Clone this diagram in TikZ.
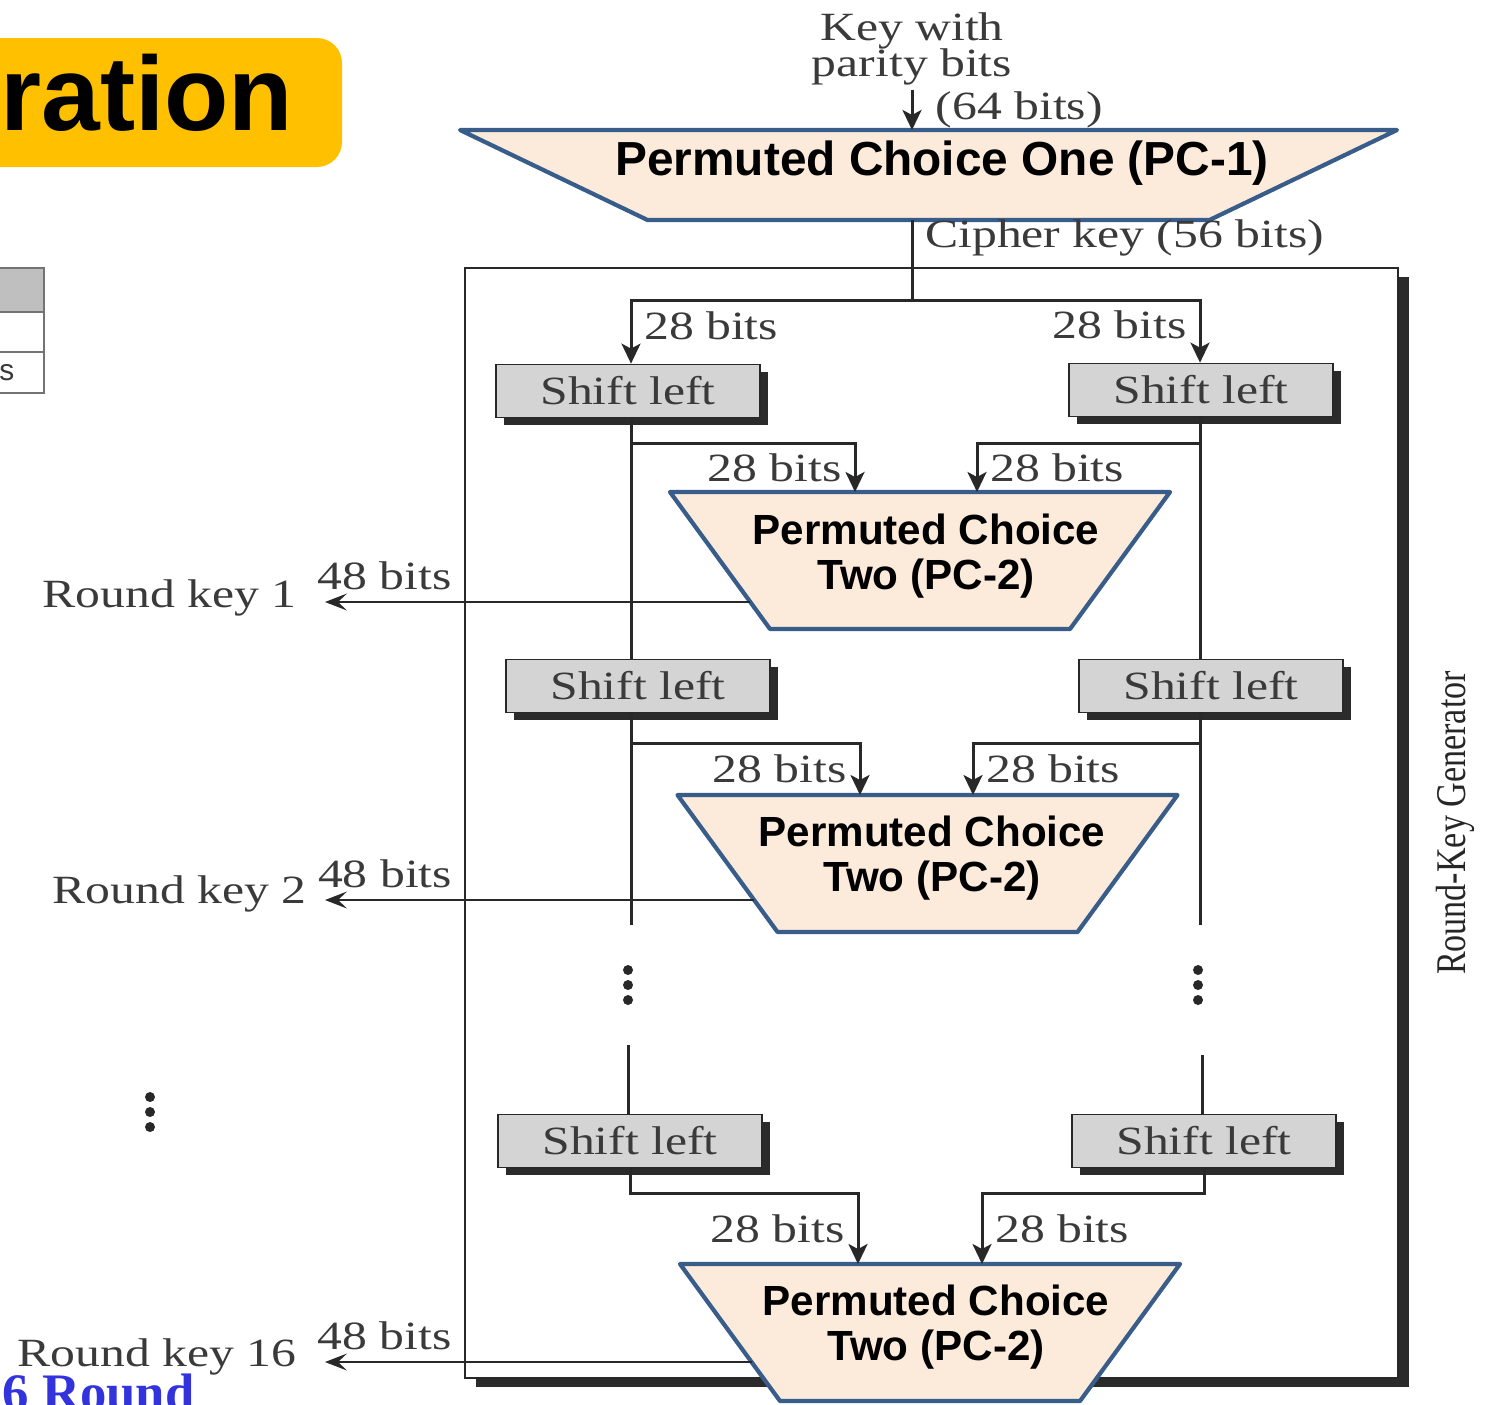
\documentclass[tikz,border=0pt]{standalone}
\usepackage{fontspec}
\usepackage{graphicx}
\usetikzlibrary{arrows.meta,positioning,shadows}

\newfontfamily\figserif[FakeStretch=1.24]{Liberation Serif}
\newfontfamily\plainserif{Liberation Serif}
\newfontfamily\figsans{Liberation Sans}

\definecolor{pcfill}{RGB}{252,234,218}
\definecolor{pcline}{RGB}{56,93,138}
\definecolor{shiftgray}{RGB}{212,212,212}
\definecolor{inkgray}{RGB}{58,58,58}
\definecolor{inkdark}{RGB}{40,40,40}
\definecolor{shadowgray}{RGB}{43,43,43}
\definecolor{titleyellow}{RGB}{255,192,0}
\definecolor{roundblue}{RGB}{51,51,221}
\definecolor{headgray}{RGB}{191,191,191}

\tikzset{
  lbl/.style={font=\figserif\fontsize{11.4}{12}\selectfont, text=inkgray},
  shiftbox/.style={lbl, draw=inkdark, fill=shiftgray, line width=0.5pt,
    minimum width=26.4mm, minimum height=5.3mm, inner sep=0pt,
    drop shadow={shadow xshift=0.8mm, shadow yshift=-0.7mm, fill=shadowgray, opacity=1}},
  genbox/.style={draw=inkdark, line width=0.45pt, fill=white,
    minimum width=93.3mm, minimum height=111mm,
    drop shadow={shadow xshift=1.1mm, shadow yshift=-0.9mm, fill=shadowgray, opacity=1}},
  pcbox/.style={draw=pcline, fill=pcfill, line width=1.2pt, line join=round},
  pctext/.style={font=\figsans\bfseries\fontsize{12}{12.6}\selectfont, align=center, inner sep=0pt},
  link/.style={draw=inkdark, line width=0.85pt},
  arr/.style={link, -{Stealth[length=2mm, width=1.9mm, inset=0.5mm]}},
  keyarr/.style={draw=inkdark, line width=0.45pt, -{Stealth[length=2.2mm, width=1.7mm, inset=0.9mm]}},
  tableline/.style={draw=black!55, line width=0.4pt}
}

% trapezoid: centre x, top y, half top width, half bottom width, height
\newcommand{\pcshape}[5]{%
  \draw[pcbox] (#1-#3,#2) -- (#1+#3,#2) -- (#1+#4,#2+#5) -- (#1-#4,#2+#5) -- cycle;}

\begin{document}
\begin{tikzpicture}[x=0.1mm, y=-0.1mm]
    \useasboundingbox (0,0) rectangle (1486,1404);

    % Title tab and table fragment
    \fill[titleyellow, rounded corners=2.5mm] (-60,38) rectangle (342,167);
    \node[anchor=base east, inner sep=0pt, font=\figsans\bfseries\fontsize{30}{32}\selectfont] (ttl) at (294,130) {ration};
    \draw[tableline, fill=headgray] (-10,268) rectangle (44,312);
    \draw[tableline] (-10,312) rectangle (44,352) (-10,352) rectangle (44,393);
    \node[anchor=base east, inner sep=0pt, text=inkgray, font=\figsans\fontsize{8.5}{9}\selectfont] (tblcell) at (15,380) {s};

    % Round-key generator frame
    \node[genbox] (rkg) at (931.5,823) {};
    \node[rotate=90, inner sep=0pt, text=black!85, font=\plainserif\fontsize{9.7}{10}\selectfont] (rkgname) at (1455,823) {\scalebox{1}[1.24]{Round-Key Generator}};

    % PC-1
    \node[lbl, align=center, inner sep=1pt, font=\figserif\fontsize{11.4}{10.4}\selectfont] (keyin) at (912,49) {Key with\\parity bits};
    \pcshape{928.5}{130}{468.5}{281}{90}
    \coordinate (pconetop) at (912,130);
    \coordinate (pconebot) at (912,220);
    \node[pctext, font=\figsans\bfseries\fontsize{13.6}{15}\selectfont] (pconetxt) at (942,163) {Permuted Choice One (PC-1)};
    \draw[arr] (keyin.south) -- (pconetop) node[midway, right=3pt, lbl] {(64 bits)};

    % Shift boxes
    \node[shiftbox] (shA1) at (628,391) {Shift left};
    \node[shiftbox] (shB1) at (1201,390) {Shift left};
    \node[shiftbox] (shA2) at (638,686) {Shift left};
    \node[shiftbox] (shB2) at (1211,686) {Shift left};
    \node[shiftbox] (shA3) at (630,1141) {Shift left};
    \node[shiftbox] (shB3) at (1204,1141) {Shift left};

    % PC-2 boxes
    \pcshape{920}{492}{250}{150}{137}
    \coordinate (pctwoa) at (920,492);
    \node[pctext] (pctwoatxt) at (926,556) {Permuted Choice\\Two (PC-2)};
    \pcshape{927.5}{795}{250}{150}{137}
    \coordinate (pctwob) at (927.5,795);
    \node[pctext] (pctwobtxt) at (932,858) {Permuted Choice\\Two (PC-2)};
    \pcshape{930}{1264}{250}{150}{137}
    \coordinate (pctwoc) at (930,1264);
    \node[pctext] (pctwoctxt) at (936,1327) {Permuted Choice\\Two (PC-2)};

    % Split of the cipher key
    \coordinate (split) at (912,300);
    \coordinate (cL) at (631,300);
    \coordinate (cR) at (1200,300);
    \draw[link] (pconebot) -- (split) node[pos=.22, right, lbl] {Cipher key (56 bits)};
    \draw[arr] (split) -- (cL) -- (cL |- shA1.north) node[pos=.4, right, lbl] {28 bits};
    \draw[arr] (split) -- (cR) -- (cR |- shB1.north) node[pos=.4, left, lbl] {28 bits};

    % Round 1
    \coordinate (tapLa) at (631,443);
    \coordinate (tapRa) at (1200,443);
    \draw[link] (cL |- shA1.south) -- (cL |- shA2.north);
    \draw[link] (cR |- shB1.south) -- (cR |- shB2.north);
    \draw[arr] (tapLa) -| ([xshift=-6.5mm]pctwoa) node[pos=.75, left, lbl] {28 bits};
    \draw[arr] (tapRa) -| ([xshift=5.7mm]pctwoa) node[pos=.75, right, lbl] {28 bits};

    % Round 2
    \coordinate (tapLb) at (631,743);
    \coordinate (tapRb) at (1200,743);
    \coordinate (endLb) at (631,925);
    \coordinate (endRb) at (1200,925);
    \draw[link] (cL |- shA2.south) -- (endLb);
    \draw[link] (cR |- shB2.south) -- (endRb);
    \draw[arr] (tapLb) -| ([xshift=-6.75mm]pctwob) node[pos=.75, left, lbl] {28 bits};
    \draw[arr] (tapRb) -| ([xshift=4.55mm]pctwob) node[pos=.75, right, lbl] {28 bits};

    % Dots
    \foreach \y in {970,985,1000} {
        \fill[inkdark] (628,\y) circle (0.5mm);
        \fill[inkdark] (1198,\y) circle (0.5mm);
    }
    \foreach \y in {1097,1112,1127}
        \fill[inkdark] (150,\y) circle (0.5mm);

    % Round 16
    \coordinate (resL) at (628,1045);
    \coordinate (resR) at (1202,1055);
    \draw[link] (resL) -- (resL |- shA3.north);
    \draw[link] (resR) -- (resR |- shB3.north);
    \draw[arr] (shA3.south) -- ++(0,25) -| ([xshift=-7.2mm]pctwoc) node[pos=.75, left, lbl] {28 bits};
    \draw[arr] (shB3.south) -- ++(0,25) -| ([xshift=5.2mm]pctwoc) node[pos=.75, right, lbl] {28 bits};

    % Round keys
    \coordinate (outa) at (750,602);
    \coordinate (outb) at (754,900);
    \coordinate (outc) at (752,1362);
    \coordinate (tips) at (325,0);
    \draw[keyarr] (outa) -- (outa -| tips) node[pos=.86, above, lbl] {48 bits};
    \draw[keyarr] (outb) -- (outb -| tips) node[pos=.86, above, lbl] {48 bits};
    \draw[keyarr] (outc) -- (outc -| tips) node[pos=.86, above, lbl] {48 bits};
    \node[lbl, anchor=east, inner sep=0pt] (rkone) at (297,598) {Round key 1};
    \node[lbl, anchor=east, inner sep=0pt] (rktwo) at (307,894) {Round key 2};
    \node[lbl, anchor=east, inner sep=0pt] (rksixteen) at (297,1357) {Round key 16};

    \node[anchor=base west, inner sep=0pt, text=roundblue, font=\plainserif\bfseries\fontsize{15}{16}\selectfont] (roundcap) at (2,1410) {6 Round};
\end{tikzpicture}
\end{document}
